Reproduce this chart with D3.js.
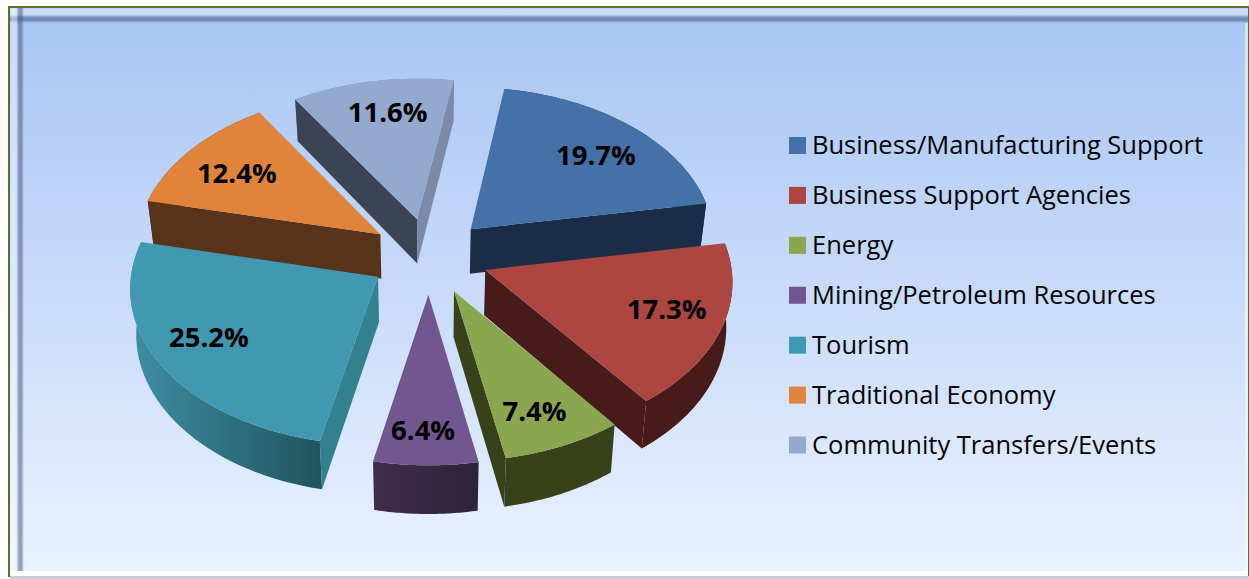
<!DOCTYPE html>
<html><head><meta charset="utf-8">
<script src="https://cdnjs.cloudflare.com/ajax/libs/d3/7.8.5/d3.min.js"></script>
<style>html,body{margin:0;padding:0;background:#fff;overflow:hidden}svg{display:block}</style>
</head><body><svg id="c" width="1249" height="579"></svg>
<script>
const categories = ["Business/Manufacturing Support","Business Support Agencies","Energy","Mining/Petroleum Resources","Tourism","Traditional Economy","Community Transfers/Events"];
const shares = [19.7,17.3,7.4,6.4,25.2,12.4,11.6];
const topColors = ["#4472a8","#ad4541","#8aa64e","#72568f","#4099b0","#df843a","#94a9ce"];
const wallFrom = ["#1a2d47","#471b19","#37421b","#3e2d4c","#3f8ea3","#57331a","#7a8aa8"];
const wallTo = ["#1a2d47","#471b19","#37421b","#2d2338","#205560","#57331a","#7a8aa8"];
const startCut = ["#1a2d47","#471b19","#37421b","#3e2d4c","#33808f","#57331a","#3b4355"];
const endCut = ["#1a2d47","#471b19","#37421b","#3e2d4c","#33808f","#57331a","#7a8aa8"];
const labelReach = [0.74,0.78,0.78,0.88,0.82,0.66,0.66];
const labelShiftX = [5,-2,-4,-3,8,-17,1];
const labelShiftY = [3,-7,0,-14,-12,-5,-15];

const svg = d3.select("#c");
const defs = svg.append("defs");
const W=1249,H=579;
const cx=429, cy=256, R=245, explode=60, tilt=0.635, persp=0.065, depth=45, converge=0.00045;
const project=(x,y,z=0)=>{const s=1+persp*y/R;return [cx+x*s*(1-converge*z), cy+y*tilt*s+z*s];};
const polar=(a,r,o)=>[ (r*Math.sin(a))+explode*Math.sin(o), (-r*Math.cos(a))-explode*Math.cos(o)];

// panel
const grad=(id,horizontal,stops)=>{
  const g=defs.append("linearGradient").attr("id",id).attr("x1",0).attr("y1",0).attr("x2",horizontal?1:0).attr("y2",horizontal?0:1);
  stops.forEach(d=>g.append("stop").attr("offset",d[0]).attr("stop-color",d[1]).attr("stop-opacity",d[2]===undefined?1:d[2]));
};
grad("bg",false,[[0,"#a8c5f3"],[0.5,"#c9dbfa"],[1,"#eaf2ff"]]);
const bevel=[[0,"#ffffff",0.15],[0.15,"#ffffff",0.45],[0.45,"#ffffff",0.35],[0.6,"#4a5a84",0.45],[0.8,"#3f5078",0.55],[1,"#3f5078",0]];
grad("bevT",false,bevel);
grad("bevL",true,bevel);
svg.append("rect").attr("x",8).attr("y",6).attr("width",W-8).attr("height",H-8).attr("fill","#5b6e2e");
svg.append("rect").attr("x",10).attr("y",8).attr("width",W-11).attr("height",H-11).attr("fill","url(#bg)");
svg.append("rect").attr("x",10).attr("y",8).attr("width",W-11).attr("height",15).attr("fill","url(#bevT)");
svg.append("rect").attr("x",10).attr("y",8).attr("width",14).attr("height",H-16).attr("fill","url(#bevL)");
svg.append("rect").attr("x",10).attr("y",H-8).attr("width",W-11).attr("height",5).attr("fill","#fbfdff");
svg.append("rect").attr("x",W-4).attr("y",23).attr("width",3).attr("height",H-31).attr("fill","#f4f8ff").attr("opacity",0.6);
svg.append("rect").attr("x",10).attr("y",H-3).attr("width",W-10).attr("height",3).attr("fill","#c9ced6");

const pie=d3.pie().sort(null).value(d=>d).startAngle(9.2*Math.PI/180).endAngle((9.2+360)*Math.PI/180);
const arcs=pie(shares).map((d,i)=>{const mid=(d.startAngle+d.endAngle)/2;return {...d,i,mid,backness:-Math.cos(mid)};});
const line=d3.line();
const steps=a=>d3.range(0,41).map(k=>a.startAngle+(a.endAngle-a.startAngle)*k/40);
const order=arcs.slice().sort((a,b)=>a.backness-b.backness);

order.forEach(a=>{
  const g=svg.append("g");
  const o=a.mid;
  const apex=polar(0,0,o);
  const rim=steps(a).map(t=>polar(t,R,o));
  const topP=rim.map(p=>project(p[0],p[1],0));
  const botP=rim.map(p=>project(p[0],p[1],depth));
  const gid="w"+a.i;
  const vis=topP.map(p=>p[0]);
  const lg=defs.append("linearGradient").attr("id",gid).attr("gradientUnits","userSpaceOnUse")
    .attr("x1",d3.min(vis)).attr("x2",d3.max(vis)).attr("y1",0).attr("y2",0);
  lg.append("stop").attr("offset",0).attr("stop-color",wallFrom[a.i]);
  lg.append("stop").attr("offset",1).attr("stop-color",wallTo[a.i]);
  g.append("path").attr("d",line(topP.concat(botP.slice().reverse()))+"Z").attr("fill",`url(#${gid})`);
  const face=(edge,fill)=>{
    const c0=project(apex[0],apex[1],0),c1=project(apex[0],apex[1],depth);
    const e0=project(edge[0],edge[1],0),e1=project(edge[0],edge[1],depth);
    g.append("path").attr("d",line([c0,e0,e1,c1])+"Z").attr("fill",fill);
  };
  if(Math.sin(a.startAngle)<0) face(rim[0],startCut[a.i]);
  if(Math.sin(a.endAngle)>0) face(rim[rim.length-1],endCut[a.i]);
  g.append("path").attr("d",line([project(apex[0],apex[1],0)].concat(topP))+"Z").attr("fill",topColors[a.i]);
});

arcs.forEach(a=>{
  const p=polar(a.mid,R*labelReach[a.i],a.mid);
  const q=project(p[0],p[1],0);
  svg.append("text").attr("x",q[0]+labelShiftX[a.i]).attr("y",q[1]+labelShiftY[a.i]).attr("text-anchor","middle").attr("dominant-baseline","central")
    .attr("font-family","'Open Sans'").attr("font-weight",700).attr("font-size",27.5).attr("fill","#000")
    .text(d3.format(".1f")(shares[a.i])+"%");
});

const ly=d3.scalePoint().domain(categories).range([144,443.5]);
const leg=svg.append("g").selectAll("g").data(categories).join("g").attr("transform",d=>`translate(789,${ly(d)})`);
leg.append("rect").attr("x",0).attr("y",-7).attr("width",17).attr("height",17).attr("fill",(d,i)=>topColors[i]);
leg.append("text").attr("x",23).attr("y",0).attr("dominant-baseline","central").attr("font-family","'Open Sans'")
  .attr("font-size",25.5).attr("fill","#050505").text(d=>d);
</script></body></html>
